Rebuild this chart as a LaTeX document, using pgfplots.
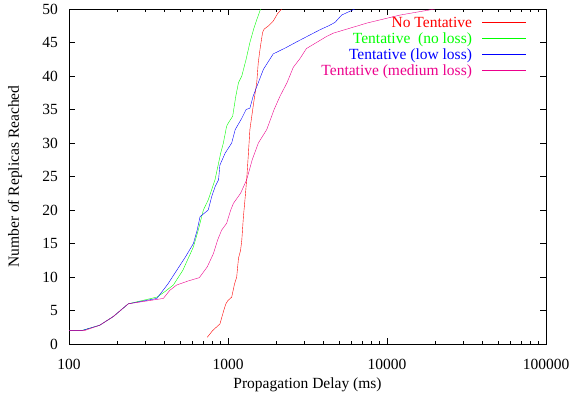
\documentclass[border=0pt]{standalone}
\usepackage{fontspec}
\setmainfont{Liberation Serif}
\usepackage{pgfplots}
\pgfplotsset{compat=1.18}
\newcommand{\fs}{\fontsize{15.5bp}{18bp}\selectfont}
\begin{document}
\fs
\begin{tikzpicture}
\begin{axis}[
  name=ax, at={(0,0)}, anchor=south west,
  scale only axis, width=477bp, height=335bp,
  xmode=log, xmin=100, xmax=100000, ymin=0, ymax=50,
  xtick={100,1000,10000,100000},
  xticklabels={100,1000,10000,100000},
  ytick={0,5,...,50},
  tick align=inside, tick pos=both,
  major tick length=6bp, minor tick length=3bp,
  tick style={black, line width=0.6bp},
  axis line style={line width=0.8bp},
  /pgf/number format/assume math mode=true,
  ticklabel style={font=\fs},
  xticklabel style={anchor=north, inner sep=0bp, yshift=-15bp},
  yticklabel style={anchor=east, inner sep=0bp, xshift=-11bp},
  xlabel={Propagation Delay (ms)},
  ylabel={Number of Replicas Reached},
  xlabel style={at={(axis description cs:0.5,-0.1224)}, anchor=center},
  ylabel style={at={(axis description cs:-0.1132,0.5)}, anchor=center},
  label style={font=\fs},
  every plot/.append style={line width=0.8bp},
  legend cell align=right, legend plot pos=right,
  legend style={draw=none, fill=none, at={(0.960,0.977)}, anchor=north east,
    font=\fs, row sep=0bp, column sep=10bp, inner sep=0bp,
    nodes={inner sep=0bp, text height=11bp, text depth=5bp}},
]
\addplot[red, legend image code/.code={\draw[draw=red, draw opacity=1, line width=0.8bp] (0bp,3bp) -- (44bp,3bp);}] coordinates {(740,1) (800,2) (890,3) (940,5) (970,6) (1000,6.5) (1055,7) (1100,9) (1134,10) (1164,12.8) (1200,14) (1221,15.5) (1250,19) (1278,21.5) (1310,24.5) (1340,28) (1373,32) (1450,36) (1516,39) (1550,42) (1590,44) (1650,46.5) (1688,47) (1800,47.5) (1925,48.2) (2050,49.3) (2175,50)};
\addlegendentry{\textcolor{red}{No Tentative}}
\addplot[green, legend image code/.code={\draw[draw=green, draw opacity=1, line width=0.8bp] (0bp,3bp) -- (44bp,3bp);}] coordinates {(100,2) (120,2) (156,2.8) (190,4.1) (236,6) (357,7) (400,7.8) (453,8.8) (520,11) (606,14.5) (650,17) (700,20) (751,21.5) (828,24.5) (900,28.5) (935,30) (980,32.5) (1005,33) (1070,34) (1120,37) (1164,39) (1221,40) (1300,42.5) (1373,45) (1450,47) (1516,48.4) (1603,50)};
\addlegendentry{\textcolor{green}{Tentative\ \ (no loss)}}
\addplot[blue, legend image code/.code={\draw[draw=blue, draw opacity=1, line width=0.8bp] (0bp,3bp) -- (44bp,3bp);}] coordinates {(100,2) (120,2) (156,2.8) (190,4.1) (236,6) (357,6.8) (420,9) (476,11) (540,13) (606,15) (640,17) (667,19) (751,20) (790,22) (830,23.5) (872,24.5) (889,26.7) (960,28.5) (1055,30) (1110,32) (1221,33.7) (1300,35) (1373,35.2) (1440,37) (1516,38.4) (1670,41) (1925,43.3) (2300,44.2) (2705,45.1) (3786,46.9) (4300,47.5) (4710,48) (5190,49.1) (6270,50)};
\addlegendentry{\textcolor{blue}{Tentative (low loss)}}
\addplot[magenta, legend image code/.code={\draw[draw=magenta, draw opacity=1, line width=0.8bp] (0bp,3bp) -- (44bp,3bp);}] coordinates {(100,2) (125,2) (156,2.8) (190,4.1) (236,6) (392,6.8) (430,8) (475,8.8) (560,9.4) (660,9.9) (740,11.5) (810,13.5) (860,15.5) (912,17) (980,18) (1040,20) (1082,21) (1200,22.5) (1310,24.5) (1420,27.5) (1552,30) (1752,32) (1950,35) (2125,37) (2350,39) (2574,41.3) (2835,42.6) (3114,44.1) (4167,45.9) (4600,46.4) (6790,47.6) (7470,47.9) (12100,49.1) (20000,50)};
\addlegendentry{\textcolor{magenta}{Tentative (medium loss)}}
\end{axis}
\pgfresetboundingbox
\path (-69bp,-52bp) rectangle (505bp,344bp);
\end{tikzpicture}
\end{document}
